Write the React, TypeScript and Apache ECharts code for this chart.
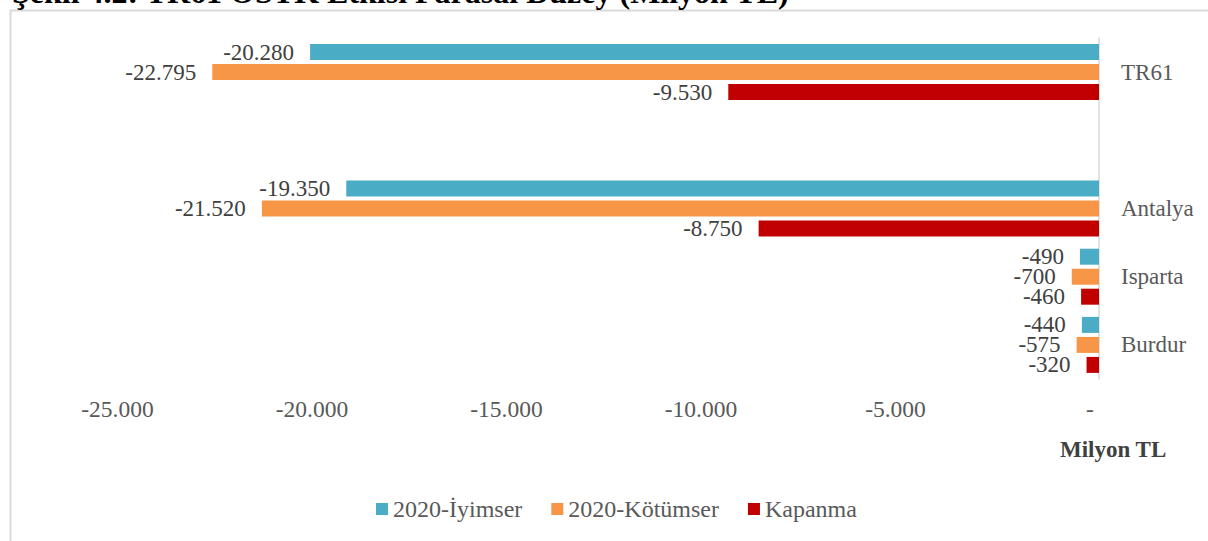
import React, { useEffect, useRef } from "react";
import * as echarts from "echarts";

const categories = ["Burdur", "Isparta", "Antalya", "", "TR61"];
const seriesNames = ["2020-İyimser", "2020-Kötümser", "Kapanma"];
const iyimser = [-440, -490, -19350, null, -20280];
const kotumser = [-575, -700, -21520, null, -22795];
const kapanma = [-320, -460, -8750, null, -9530];
const colors = ["#4BACC6", "#F79646", "#C00000"];
const xTicks = { min: -25000, max: 0, interval: 5000 };
const titleText = "Şekil 4.2: TR61 OSTK Etkisi Parasal Düzey (Milyon TL)";
const unitText = "Milyon TL";

const FONT = '"Liberation Serif", "Times New Roman", serif';

function fmt(v: number): string {
  if (v === 0) return "-";
  const s = Math.abs(v).toString().replace(/\B(?=(\d{3})+(?!\d))/g, ".");
  return (v < 0 ? "-" : "") + s;
}

export default function App() {
  const ref = useRef<HTMLDivElement>(null);
  useEffect(() => {
    document.body.style.margin = "0";
    const chart = echarts.init(ref.current!, null, { renderer: "svg" });
    const values = [iyimser, kotumser, kapanma];
    const series = seriesNames.map((name, i) => ({
      name,
      type: "bar",
      data: values[i],
      barWidth: 16,
      barGap: "25%",
      itemStyle: { color: colors[i] },
      label: {
        show: true,
        position: "left",
        distance: 16,
        formatter: (p: any) => fmt(p.value),
        fontFamily: FONT,
        fontSize: 23,
        color: "#404040",
      },
    }));
    chart.setOption({
      animation: false,
      textStyle: { fontFamily: FONT },
      grid: { left: 126.5, right: 109, top: 38, bottom: 162, containLabel: false },
      xAxis: {
        type: "value",
        min: xTicks.min,
        max: xTicks.max,
        interval: xTicks.interval,
        axisLine: { show: false },
        axisTick: { show: false },
        splitLine: { show: false },
        axisLabel: {
          formatter: (v: number) => fmt(v),
          fontFamily: FONT,
          fontSize: 23.5,
          color: "#595959",
          margin: 18,
          padding: [0, 18, 0, 0],
        },
      },
      yAxis: {
        type: "category",
        position: "right",
        data: categories,
        axisLine: { show: true, lineStyle: { color: "#d9d9d9", width: 1.5 } },
        axisTick: { show: false },
        axisLabel: {
          fontFamily: FONT,
          fontSize: 23,
          color: "#595959",
          margin: 22,
        },
      },
      legend: {
        data: seriesNames,
        left: 376,
        top: 497,
        padding: 0,
        icon: "rect",
        itemWidth: 12,
        itemHeight: 12,
        itemGap: 29,
        textStyle: { fontFamily: FONT, fontSize: 24, color: "#595959" },
      },
      graphic: [
        {
          type: "rect",
          shape: { x: 10.5, y: 10.5, width: 1400, height: 800 },
          style: { fill: "none", stroke: "#d9d9d9", lineWidth: 2 },
          silent: true,
        },
        {
          type: "text",
          x: 12,
          y: -8,
          style: {
            text: titleText,
            fontFamily: FONT,
            fontWeight: "bold",
            fontSize: 32,
            fill: "#000000",
            verticalAlign: "middle",
            align: "left",
          },
        },
        {
          type: "text",
          x: 1060,
          y: 449,
          style: {
            text: unitText,
            fontFamily: FONT,
            fontWeight: "bold",
            fontSize: 23,
            fill: "#404040",
            verticalAlign: "middle",
            align: "left",
          },
        },
      ],
      series,
    });
    return () => chart.dispose();
  }, []);
  return (
    <div
      ref={ref}
      style={{ position: "absolute", left: 0, top: 0, width: 1208, height: 541 }}
    />
  );
}
